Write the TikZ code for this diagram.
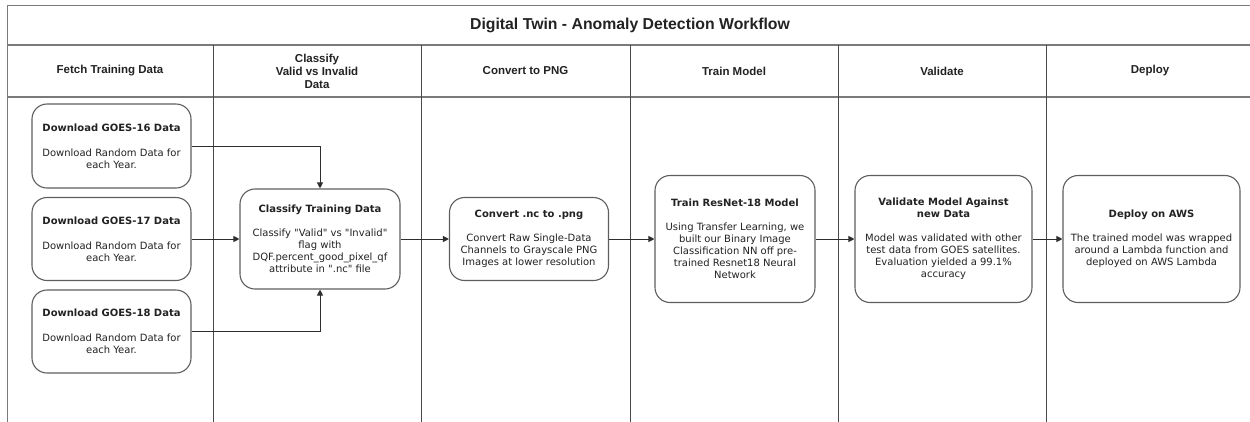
\documentclass[tikz,border=0pt]{standalone}
\usepackage{fontspec}
\usetikzlibrary{arrows.meta}
\newfontfamily\headfont{Liberation Sans}
\newfontfamily\boxfont{DejaVu Sans}
\definecolor{frameline}{HTML}{7A7A7A}
\definecolor{laneline}{HTML}{4A4A4A}
\definecolor{boxline}{HTML}{5E5E5E}
\definecolor{flowline}{HTML}{2E2E2E}
\definecolor{inktext}{HTML}{222222}

\tikzset{
  lanehead/.style={font=\headfont\bfseries\fontsize{11.5}{13}\selectfont, text=inktext, align=center, inner sep=0pt},
  stepbox/.style={draw=boxline, line width=1.1pt, rounded corners=15pt, fill=white,
    font=\boxfont\fontsize{10}{12}\selectfont, text=inktext, align=center, inner sep=0pt},
  flow/.style={draw=flowline, line width=0.9pt, -{Triangle[length=6pt,width=6pt]}},
}

\begin{document}
\begin{tikzpicture}[x=1pt, y=-1pt]
\useasboundingbox (0,0) rectangle (1250,421);
\clip (0,0) rectangle (1250,421);

% pool frame, title band and header row
\draw[frameline, line width=1pt] (7,430) -- (7,5) -- (1262,5);
\draw[frameline, line width=1.6pt] (7,45) -- (1262,45);
\draw[frameline, line width=1.6pt] (7,97) -- (1262,97);
\node[font=\headfont\bfseries\fontsize{15.8}{16}\selectfont, text=inktext] (title) at (630,25)
  {Digital Twin - Anomaly Detection Workflow};

% lane dividers
\foreach \lx in {213,421,630,838,1046}
  \draw[laneline, line width=1pt] (\lx,45) -- (\lx,430);

% lane headers
\node[lanehead] (h1) at (110,71) {Fetch Training Data};
\node[lanehead] (h2) at (317,71) {Classify\\Valid vs Invalid\\Data};
\node[lanehead] (h3) at (525.5,71) {Convert to PNG};
\node[lanehead] (h4) at (734,71) {Train Model};
\node[lanehead] (h5) at (942,71) {Validate};
\node[lanehead] (h6) at (1150,71) {Deploy};

% process steps
\node[stepbox, minimum width=159pt, minimum height=84pt] (g16) at (111.5,146)
  {\textbf{Download GOES-16 Data}\\[13pt]Download Random Data for\\each Year.};
\node[stepbox, minimum width=159pt, minimum height=83pt] (g17) at (111.5,239)
  {\textbf{Download GOES-17 Data}\\[13pt]Download Random Data for\\each Year.};
\node[stepbox, minimum width=159pt, minimum height=83pt] (g18) at (111.5,331.5)
  {\textbf{Download GOES-18 Data}\\[13pt]Download Random Data for\\each Year.};

\node[stepbox, minimum width=160pt, minimum height=100pt] (cls) at (320,239)
  {\textbf{Classify Training Data}\\[12pt]Classify "Valid" vs "Invalid"\\flag with\\DQF.percent\_good\_pixel\_qf\\attribute in ".nc" file};

\node[stepbox, minimum width=159pt, minimum height=83pt] (cnv) at (529,239)
  {\textbf{Convert .nc to .png}\\[12pt]Convert Raw Single-Data\\Channels to Grayscale PNG\\Images at lower resolution};

\node[stepbox, minimum width=160pt, minimum height=127pt] (trn) at (735,239)
  {\textbf{Train ResNet-18 Model}\\[12pt]Using Transfer Learning, we\\built our Binary Image\\Classification NN off pre-\\trained Resnet18 Neural\\Network};

\node[stepbox, minimum width=177pt, minimum height=127pt] (val) at (943.5,239)
  {\textbf{Validate Model Against}\\\textbf{new Data}\\[12pt]Model was validated with other\\test data from GOES satellites.\\Evaluation yielded a 99.1\%\\accuracy};

\node[stepbox, minimum width=177pt, minimum height=127pt] (dep) at (1151.5,239)
  {\textbf{Deploy on AWS}\\[12pt]The trained model was wrapped\\around a Lambda function and\\deployed on AWS Lambda};

% connectors
\draw[flow] (g16.east) -| (cls.north);
\draw[flow] (g17.east) -- (cls.west);
\draw[flow] (g18.east) -| (cls.south);
\draw[flow] (cls.east) -- (cnv.west);
\draw[flow] (cnv.east) -- (trn.west);
\draw[flow] (trn.east) -- (val.west);
\draw[flow] (val.east) -- (dep.west);
\end{tikzpicture}
\end{document}
